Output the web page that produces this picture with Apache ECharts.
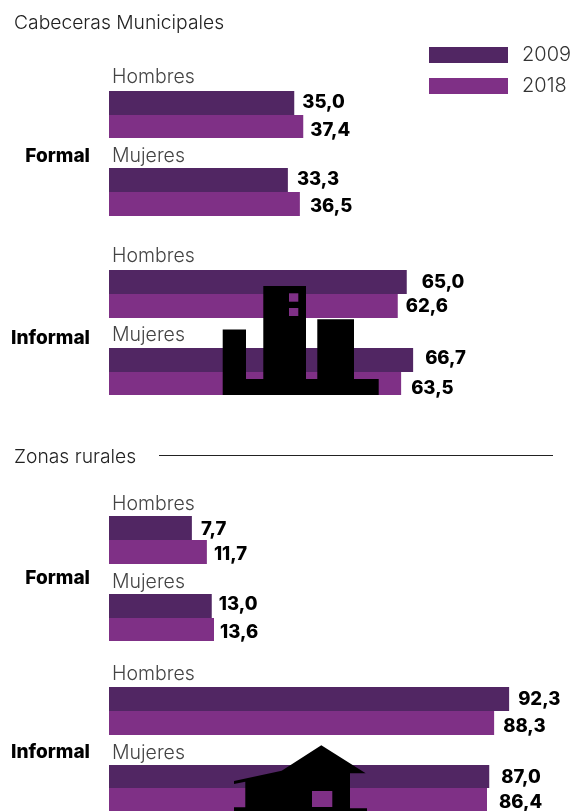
<!DOCTYPE html>
<html>
<head>
<meta charset="utf-8">
<style>html,body{margin:0;padding:0;background:#fff;overflow:hidden}#c{width:573px;height:811px}</style>
<script src="https://cdn.jsdelivr.net/npm/echarts@6/dist/echarts.min.js"></script>
</head>
<body>
<div id="c"></div>
<script>
// Data
const years = ['2009', '2018'];
const sexLabels = ['Hombres', 'Mujeres', 'Hombres', 'Mujeres', 'Hombres', 'Mujeres', 'Hombres', 'Mujeres'];
const values2009 = [35.0, 33.3, 65.0, 66.7, 7.7, 13.0, 92.3, 87.0];
const values2018 = [37.4, 36.5, 62.6, 63.5, 11.7, 13.6, 88.3, 86.4];

// Layout (kept apart from the data)
const panelTops = [91, 168, 270, 348, 516, 594, 687, 765];
const panelHeights = [47, 48, 48, 47, 48, 47, 48, 48];
const nameGaps = [4, 2, 4, 3, 2, 2, 3, 2];
const gaps2009 = [8, 9, 15, 12, 9, 7, 9, 12];
const gaps2018 = [7, 10, 8, 10, 7, 6, 9, 12];
const nudge2009 = [-1, -1, 0, -2, 1, -2, 0, 1];
const nudge2018 = [3.5, 2, 0, 4.5, 2, 3, 3, 3];
const dark = '#512663', purple = '#7f3086';
const FONT = 'Inter', BOLD = 'Inter';

const fmt = p => p.value.toFixed(1).replace('.', ',');
const grid = [], xAxis = [], yAxis = [], series = [];
sexLabels.forEach((name, i) => {
  grid.push({left: 109, width: 429, top: panelTops[i], height: panelHeights[i]});
  xAxis.push({type: 'value', gridIndex: i, min: -14.4, max: 100, startValue: -14.4, show: false});
  yAxis.push({
    type: 'category', gridIndex: i, data: [name], inverse: true,
    axisLine: {show: false, onZero: false}, axisTick: {show: false}, axisLabel: {show: false},
    name, nameLocation: 'start', nameGap: nameGaps[i], nameMoveOverlap: false,
    nameTextStyle: {align: 'left', verticalAlign: 'bottom', fontFamily: FONT, fontWeight: 300, fontSize: 19.5, color: '#444', padding: [0, 0, 0, 3]}
  });
  [[years[0], values2009, dark, gaps2009, nudge2009, 24], [years[1], values2018, purple, gaps2018, nudge2018, panelHeights[i] - 24]].forEach(([yr, vals, col, gaps, nudge, bw]) => {
    series.push({
      type: 'bar', name: yr, xAxisIndex: i, yAxisIndex: i,
      barGap: 0, barCategoryGap: 0, barWidth: bw, itemStyle: {color: col},
      label: {show: true, position: 'right', distance: 0, offset: [gaps[i], nudge[i]], formatter: fmt,
        fontFamily: BOLD, fontWeight: 800, fontSize: 18.5, color: '#000'},
      data: [vals[i]], animation: false, silent: true
    });
  });
});

const txt = (x, y, text, weight, size, color, align) => ({
  type: 'text', x, y, z: 50, silent: true,
  style: {text, fontFamily: FONT, fontWeight: weight, fontSize: size, fill: color, textAlign: align || 'left', textVerticalAlign: 'middle'}
});
const poly = (points, fill) => ({type: 'polygon', z: 60, silent: true, shape: {points}, style: {fill: fill || '#000'}});
const rect = (x, y, width, height, fill) => ({type: 'rect', z: 61, silent: true, shape: {x, y, width, height}, style: {fill}});

const graphic = [
  txt(14, 23, 'Cabeceras Municipales', 300, 19.3, '#222'),
  txt(14, 457, 'Zonas rurales', 300, 19.3, '#222'),
  txt(90, 156, 'Formal', 800, 19, '#000', 'right'),
  txt(90, 338, 'Informal', 800, 19, '#000', 'right'),
  txt(90, 578, 'Formal', 800, 19, '#000', 'right'),
  txt(90, 752, 'Informal', 800, 19, '#000', 'right'),
  {type: 'line', z: 50, silent: true, shape: {x1: 159, y1: 455.5, x2: 553, y2: 455.5}, style: {stroke: '#222', lineWidth: 1}},
  // building icon
  poly([[222.7,329.5],[246,329.5],[246,379],[263.3,379],[263.3,286],[306,286],[306,379],[317.3,379],[317.3,319.3],[354,319.3],[354,379],[378.7,379],[378.7,395],[222.7,395]]),
  rect(289, 293.3, 9.3, 8.4, purple),
  rect(289, 308, 9.3, 8, purple),
  // house icon
  poly([[321.3,745.3],[365.7,773.3],[350,773.3],[350,808.3],[367,808.3],[367,811],[234,811],[234,807.3],[245.3,807.3],[245.3,781.7],[234,784],[234,781],[281.7,770.7]]),
  rect(312, 791, 20.3, 16, purple)
];

const chart = echarts.init(document.getElementById('c'), null, {renderer: 'canvas'});
chart.setOption({
  animation: false,
  legend: {
    data: years, orient: 'vertical', left: 429, top: 45, padding: 0,
    itemWidth: 79, itemHeight: 16, itemGap: 11, icon: 'rect', selectedMode: false,
    textStyle: {fontFamily: FONT, fontWeight: 300, fontSize: 20, color: '#333', padding: [0, 0, 0, 9]}
  },
  grid, xAxis, yAxis, series, graphic
});
</script>
</body>
</html>
